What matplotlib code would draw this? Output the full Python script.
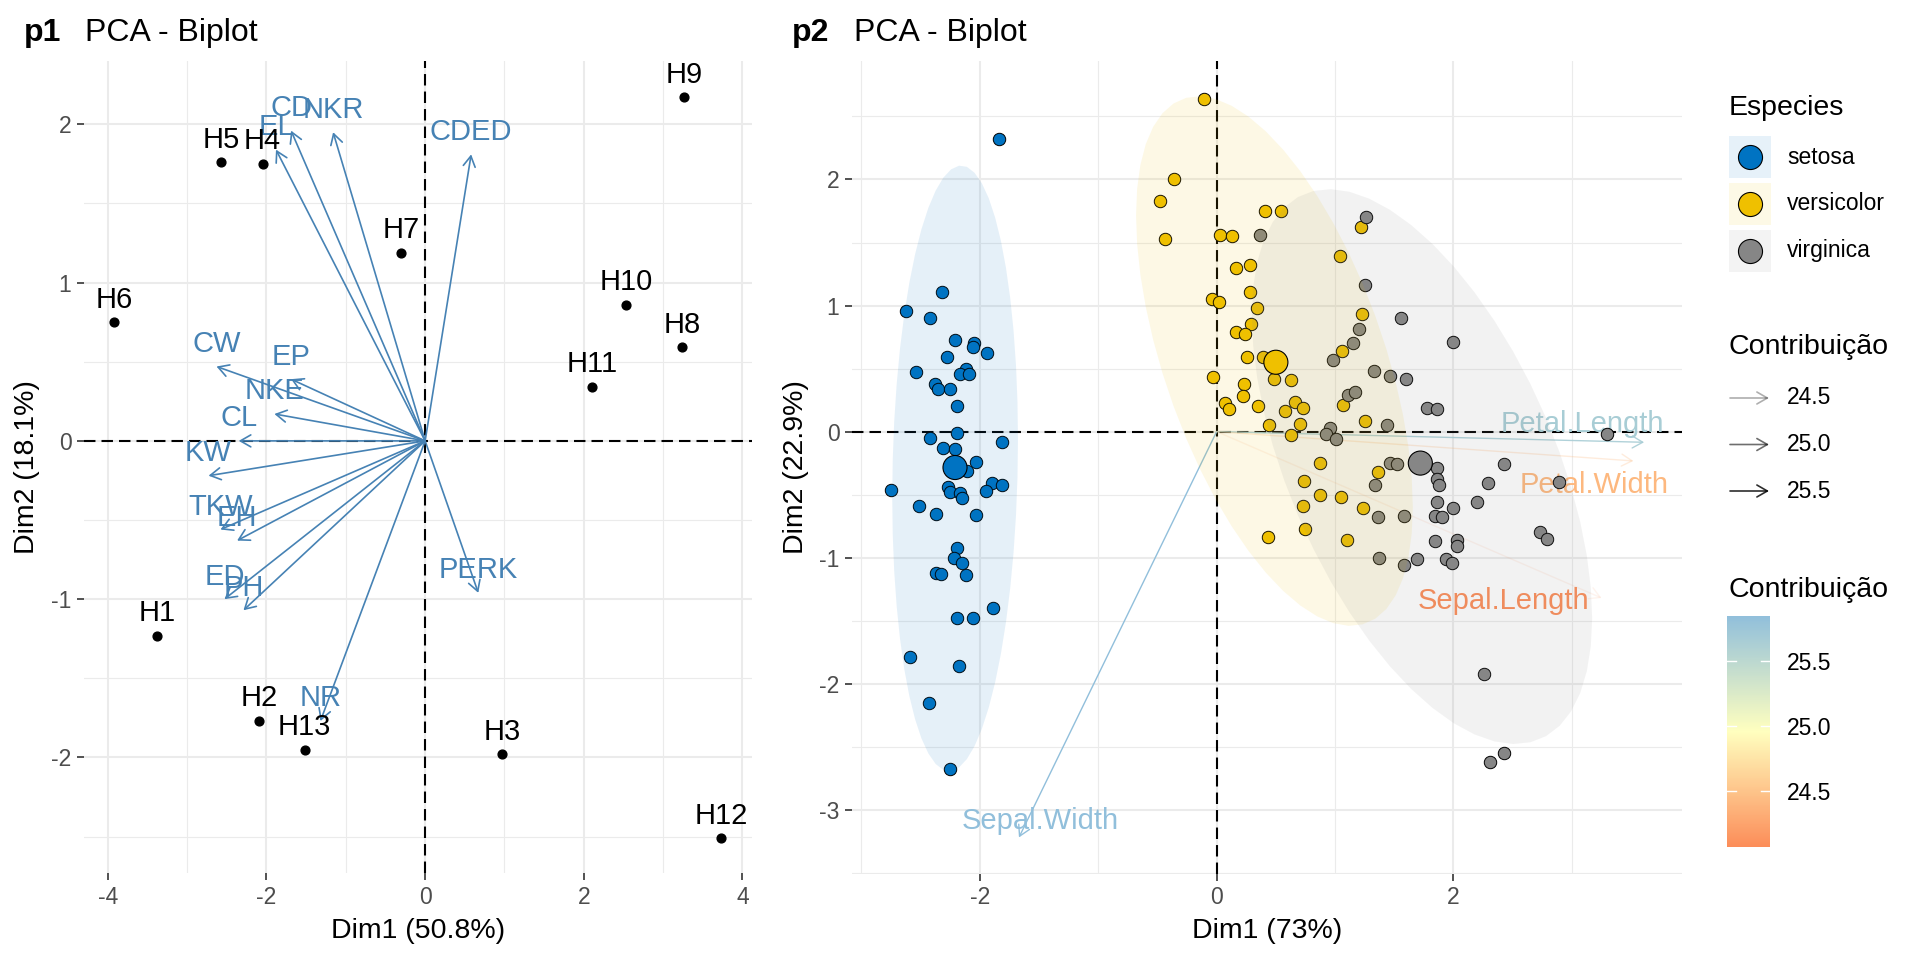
import numpy as np
import matplotlib
matplotlib.use("Agg")
import matplotlib.pyplot as plt
from matplotlib.colors import LinearSegmentedColormap, Normalize, to_rgb
from matplotlib.patches import Polygon, Rectangle
from matplotlib.cm import ScalarMappable

plt.rcParams['font.family'] = ['Liberation Sans', 'DejaVu Sans']
plt.rcParams['axes.unicode_minus'] = False

# ---------------- p1 : individuals + variables ----------------
obs_names = ["H1", "H2", "H3", "H4", "H5", "H6", "H7", "H8", "H9", "H10", "H11", "H12", "H13"]
obs_dim1 = [-3.38, -2.09, 0.97, -2.05, -2.57, -3.92, -0.30, 3.24, 3.26, 2.53, 2.10, 3.73, -1.52]
obs_dim2 = [-1.23, -1.77, -1.98, 1.75, 1.76, 0.75, 1.19, 0.59, 2.17, 0.86, 0.34, -2.51, -1.95]

var_names = ["CD", "NKR", "EL", "CDED", "CW", "EP", "NKE", "CL", "KW", "TKW", "EH", "ED", "PH", "NR", "PERK"]
var_dim1 = [-1.69, -1.16, -1.88, 0.58, -2.63, -1.69, -1.90, -2.35, -2.73, -2.58, -2.37, -2.53, -2.29, -1.32, 0.67]
var_dim2 = [1.96, 1.95, 1.84, 1.81, 0.47, 0.39, 0.17, 0.00, -0.22, -0.56, -0.63, -1.00, -1.07, -1.77, -0.96]

# ---------------- p2 : iris ----------------
species = ["setosa", "versicolor", "virginica"]
species_colors = ["#0073C2", "#EFC000", "#868686"]

setosa_x = [-1.84, -2.32, -2.62, -2.42, -2.21, -2.05, -2.06, -1.94, -2.28, -2.54, -2.12, -2.17,
            -2.09, -2.38, -2.35, -2.25, -2.19, -2.19, -2.42, -1.81, -2.31, -2.21, -2.03, -2.11,
            -2.75, -1.90, -1.81, -2.27, -2.25, -2.17, -2.15, -1.95, -2.51, -2.37, -2.03, -2.19,
            -2.22, -2.15, -2.37, -2.33, -2.12, -1.89, -2.19, -2.06, -2.59, -2.18, -2.43, -2.25]
setosa_y = [2.32, 1.11, 0.96, 0.90, 0.73, 0.70, 0.67, 0.62, 0.59, 0.47, 0.50, 0.46,
            0.455, 0.38, 0.34, 0.34, 0.20, -0.01, -0.05, -0.085, -0.13, -0.14, -0.24, -0.31,
            -0.46, -0.41, -0.42, -0.44, -0.48, -0.49, -0.53, -0.47, -0.59, -0.65, -0.66, -0.92,
            -1.00, -1.04, -1.12, -1.13, -1.14, -1.40, -1.48, -1.48, -1.79, -1.86, -2.15, -2.68]

versicolor_x = [-0.11, -0.36, -0.48, -0.44, 0.03, 0.13, 0.41, 0.54, 0.28, 0.16, 0.28, -0.04,
                0.02, 0.34, 0.29, 0.16, 0.24, 0.26, 0.39, 0.48, -0.03, 0.23, 0.22, 0.07,
                0.10, 0.35, 0.44, 1.22, 1.04, 1.23, 1.06, 0.63, 1.07, 0.66, 0.73, 0.58,
                0.70, 1.25, 0.63, 0.87, 0.74, 0.875, 1.05, 0.73, 1.235, 1.36, 0.75, 0.43, 1.10]
versicolor_y = [2.64, 2.00, 1.83, 1.53, 1.56, 1.55, 1.75, 1.75, 1.32, 1.30, 1.11, 1.05,
                1.03, 0.98, 0.85, 0.79, 0.775, 0.59, 0.595, 0.415, 0.43, 0.38, 0.28, 0.225,
                0.18, 0.20, 0.05, 1.62, 1.39, 0.93, 0.64, 0.41, 0.21, 0.235, 0.19, 0.16,
                0.06, 0.08, -0.03, -0.25, -0.39, -0.50, -0.52, -0.59, -0.61, -0.32, -0.77, -0.84, -0.86]

virginica_x = [0.37, 1.26, 1.25, 1.56, 2.00, 1.20, 1.15, 0.98, 1.33, 1.46, 1.60, 1.11,
               1.17, 1.78, 1.86, 1.44, 0.96, 0.92, 1.01, 3.30, 1.34, 1.46, 1.52, 1.86,
               1.86, 1.88, 2.43, 2.29, 2.89, 2.20, 1.86, 2.00, 1.84, 1.90, 1.36, 1.58,
               1.84, 2.03, 2.03, 2.73, 2.79, 1.37, 1.58, 1.69, 1.94, 1.99, 2.26, 2.31, 2.43]
virginica_y = [1.56, 1.70, 1.16, 0.90, 0.71, 0.81, 0.70, 0.57, 0.48, 0.44, 0.42, 0.29,
               0.315, 0.19, 0.18, 0.05, 0.03, -0.02, -0.06, -0.02, -0.42, -0.25, -0.26, -0.29,
               -0.38, -0.42, -0.26, -0.41, -0.40, -0.56, -0.56, -0.61, -0.67, -0.68, -0.68, -0.67,
               -0.87, -0.86, -0.91, -0.80, -0.85, -1.00, -1.06, -1.01, -1.01, -1.04, -1.92, -2.62, -2.55]

mean_x = [-2.21, 0.50, 1.72]
mean_y = [-0.285, 0.55, -0.25]

iris_vars = ["Sepal.Length", "Sepal.Width", "Petal.Length", "Petal.Width"]
iris_var_dim1 = [3.25, -1.67, 3.61, 3.52]
iris_var_dim2 = [-1.32, -3.22, -0.085, -0.233]
iris_contrib = [24.07, 25.85, 25.66, 24.41]
# where the repelled labels ended up (centre x, baseline y)
iris_label_x = [2.42, -1.49, 3.09, 3.19]
iris_label_y = [-1.41, -3.15, 0.00, -0.49]

contrib_ticks = [24.5, 25.0, 25.5]

# ---------------- figure ----------------
W, H = 1920, 960
fig = plt.figure(figsize=(19.2, 9.6), dpi=100)


def px_axes(left, top, right, bottom):
    return fig.add_axes([left / W, 1 - bottom / H, (right - left) / W, (bottom - top) / H])


def style_axes(ax, xlim, ylim, xmaj, ymaj, xmin, ymin):
    ax.set_xlim(*xlim)
    ax.set_ylim(*ylim)
    ax.set_xticks(xmaj)
    ax.set_yticks(ymaj)
    ax.set_xticks(xmin, minor=True)
    ax.set_yticks(ymin, minor=True)
    for s in ax.spines.values():
        s.set_visible(False)
    ax.set_axisbelow(True)
    ax.grid(which="major", color="#EBEBEB", lw=1.5)
    ax.grid(which="minor", color="#EBEBEB", lw=0.8)
    ax.tick_params(which="major", length=5, width=1.2, color="#333333",
                   labelsize=16.5, labelcolor="#4D4D4D", pad=4)
    ax.tick_params(which="minor", length=0)
    ax.axhline(0, color="black", lw=1.5, ls=(0, (5.5, 2.9)), zorder=1)
    ax.axvline(0, color="black", lw=1.5, ls=(0, (5.5, 2.9)), zorder=1)


def arrow(ax, x, y, color, lw=1.2, alpha=1.0, z=2):
    ax.annotate("", xy=(x, y), xytext=(0, 0), zorder=z,
                arrowprops=dict(arrowstyle="->,head_length=0.75,head_width=0.43",
                                color=color, lw=lw, alpha=alpha,
                                shrinkA=0, shrinkB=0, mutation_scale=10))


def titles(tag, x_tag, x_title):
    fig.text(x_tag / W, 1 - 41 / H, tag, fontsize=23, fontweight="bold", va="baseline")
    fig.text(x_title / W, 1 - 41 / H, "PCA - Biplot", fontsize=23, va="baseline")


def axis_titles(ax, xlab, ylab, xpos, ypos):
    ax.set_xlabel(xlab, fontsize=20.5)
    ax.set_ylabel(ylab, fontsize=20.5)
    ax.xaxis.set_label_coords(0.5, xpos)
    ax.yaxis.set_label_coords(ypos, 0.5)
    ax.xaxis.label.set_va("center")
    ax.yaxis.label.set_va("center")


# ---- p1 ----
ax1 = px_axes(84, 61, 752, 873)
style_axes(ax1, (-4.30, 4.12), (-2.73, 2.40),
           [-4, -2, 0, 2, 4], [-2, -1, 0, 1, 2],
           [-3, -1, 1, 3], [-2.5, -1.5, -0.5, 0.5, 1.5])
steel = "#4682B4"
for nm, x, y in zip(var_names, var_dim1, var_dim2):
    arrow(ax1, x, y, steel, lw=1.2)
    ax1.annotate(nm, (x, y), xytext=(0, 10.5), textcoords="offset points",
                 ha="center", va="baseline", fontsize=21, color=steel, zorder=3)
ax1.scatter(obs_dim1, obs_dim2, s=40, color="black", zorder=4)
for nm, x, y in zip(obs_names, obs_dim1, obs_dim2):
    ax1.annotate(nm, (x, y), xytext=(0, 10.5), textcoords="offset points",
                 ha="center", va="baseline", fontsize=21, color="black", zorder=5)
axis_titles(ax1, "Dim1 (50.8%)", "Dim2 (18.1%)", (873 - 931) / 812, (27 - 84) / 668)
titles("p1", 24, 85)

# ---- p2 ----
ax2 = px_axes(852, 61, 1682, 874)
style_axes(ax2, (-3.08, 3.93), (-3.51, 2.94),
           [-2, 0, 2], [-3, -2, -1, 0, 1, 2],
           [-3, -1, 1, 3], [-3.5, -2.5, -1.5, -0.5, 0.5, 1.5, 2.5])

cmap = LinearSegmentedColormap.from_list("contrib", ["#FC8D59", "#FFFFBF", "#91BFDB"])
cnorm = Normalize(min(iris_contrib), max(iris_contrib))
crange = max(iris_contrib) - min(iris_contrib)


def contrib_alpha(c):
    return 0.1 + 0.9 * (c - min(iris_contrib)) / crange


for nm, x, y, c, lx, ly in zip(iris_vars, iris_var_dim1, iris_var_dim2, iris_contrib,
                               iris_label_x, iris_label_y):
    arrow(ax2, x, y, cmap(cnorm(c)), lw=1.0, alpha=contrib_alpha(c), z=2)
    ax2.text(lx, ly, nm, ha="center", va="baseline", fontsize=21,
             color=cmap(cnorm(c)), zorder=2.5)


def ellipse_pts(x, y, level=0.95, segs=51):
    # normal-theory ellipse, same maths as stat_ellipse(type = "norm")
    pts = np.column_stack([x, y])
    d = len(pts) - 1
    fq = d / 2 * ((1 - level) ** (-2 / d) - 1)
    radius = np.sqrt(2 * fq)
    t = np.linspace(0, 2 * np.pi, segs)
    circ = np.column_stack([np.cos(t), np.sin(t)])
    L = np.linalg.cholesky(np.cov(pts, rowvar=False))
    return pts.mean(axis=0) + radius * circ @ L.T


groups = [(setosa_x, setosa_y), (versicolor_x, versicolor_y), (virginica_x, virginica_y)]
for (gx, gy), col in zip(groups, species_colors):
    ax2.scatter(gx, gy, s=80, color=col, edgecolor="black", linewidth=0.7, zorder=3)
for (gx, gy), col in zip(groups, species_colors):
    ax2.add_patch(Polygon(ellipse_pts(gx, gy), closed=True, facecolor=col,
                          alpha=0.1, edgecolor="none", zorder=4))
ax2.scatter(mean_x, mean_y, s=300, color=species_colors, edgecolor="black",
            linewidth=0.8, zorder=5)
axis_titles(ax2, "Dim1 (73%)", "Dim2 (22.9%)", (874 - 931) / 813, (796 - 852) / 830)
titles("p2", 792, 854)

# ---- legends (pixel space) ----
lax = fig.add_axes([0, 0, 1, 1])
lax.set_xlim(0, W)
lax.set_ylim(H, 0)
lax.axis("off")
lax.patch.set_alpha(0)

lax.text(1729, 108, "Especies", fontsize=20.5, va="center")
for i, (nm, col) in enumerate(zip(species, species_colors)):
    cy = 157 + 47 * i
    r, g, b = to_rgb(col)
    light = (1 - 0.1 * (1 - r), 1 - 0.1 * (1 - g), 1 - 0.1 * (1 - b))
    lax.add_patch(Rectangle((1729, cy - 21), 42, 42, facecolor=light, edgecolor="none"))
    lax.scatter([1750], [cy], s=300, color=col, edgecolor="black", linewidth=0.8)
    lax.text(1787, cy, nm, fontsize=16.5, va="center")

lax.text(1729, 347, "Contribuição", fontsize=20.5, va="center")
for i, c in enumerate(contrib_ticks):
    cy = 398 + 46.5 * i
    lax.annotate("", xy=(1769, cy), xytext=(1730, cy),
                 arrowprops=dict(arrowstyle="->,head_length=0.75,head_width=0.43",
                                 color="black", alpha=contrib_alpha(c), lw=1.2,
                                 shrinkA=0, shrinkB=0, mutation_scale=10))
    lax.text(1787, cy, f"{c:.1f}", fontsize=16.5, va="center")

lax.text(1729, 590, "Contribuição", fontsize=20.5, va="center")
cax = fig.add_axes([1727 / W, 1 - 847 / H, 43 / W, 231 / H])
cb = fig.colorbar(ScalarMappable(norm=cnorm, cmap=cmap), cax=cax)
cb.outline.set_visible(False)
cb.set_ticks(contrib_ticks)
cb.set_ticklabels([f"{c:.1f}" for c in contrib_ticks])
cax.tick_params(length=0, labelsize=16.5, pad=12)
for c in contrib_ticks:
    cax.plot([0, 0.2], [c, c], color="white", lw=1)
    cax.plot([0.8, 1], [c, c], color="white", lw=1)
cax.set_xlim(0, 1)

fig.savefig("out.png", dpi=100, facecolor="white")
